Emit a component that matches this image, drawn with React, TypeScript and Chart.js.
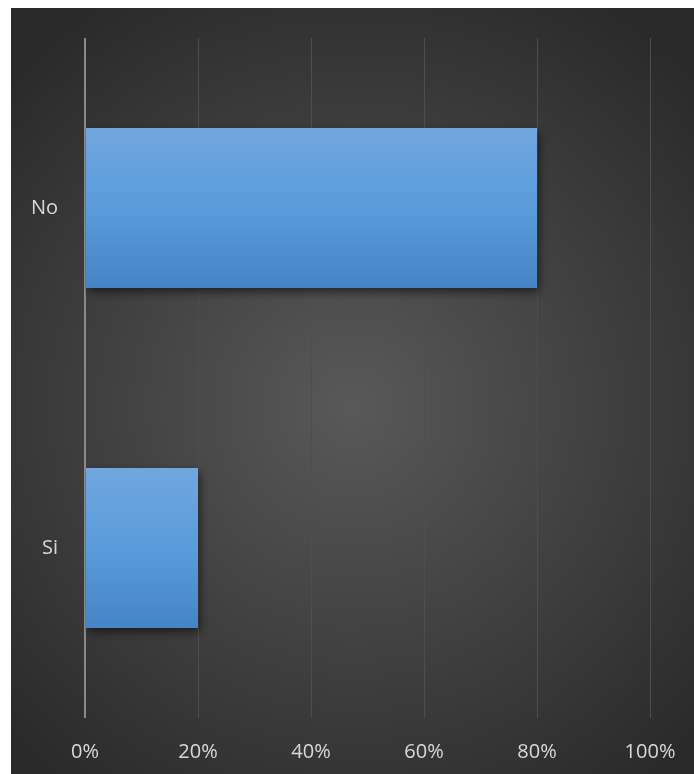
import React, { useEffect, useRef } from "react";
import { Chart, registerables } from "chart.js";

Chart.register(...registerables);

const categories = ["No", "Si"];
const values = [80, 20];
const xTicks = [0, 20, 40, 60, 80, 100];

const bgPlugin = {
  id: "bgPlugin",
  beforeDraw(chart: any) {
    const { ctx, width, height } = chart;
    ctx.save();
    const cx = width * 0.5;
    const cy = height * 0.52;
    const g = ctx.createRadialGradient(cx, cy, 0, cx, cy, Math.max(width, height) * 0.62);
    g.addColorStop(0, "#595959");
    g.addColorStop(1, "#2a2a2a");
    ctx.fillStyle = g;
    ctx.fillRect(0, 0, width, height);
    ctx.restore();
  },
  beforeDatasetDraw(chart: any) {
    const ctx = chart.ctx;
    ctx.save();
    ctx.shadowColor = "rgba(0,0,0,0.55)";
    ctx.shadowBlur = 9;
    ctx.shadowOffsetX = 2;
    ctx.shadowOffsetY = 4;
  },
  afterDatasetDraw(chart: any) {
    chart.ctx.restore();
  },
};

export default function App() {
  const ref = useRef<HTMLCanvasElement>(null);
  useEffect(() => {
    if (!ref.current) return;
    const chart = new Chart(ref.current, {
      type: "bar",
      data: {
        labels: categories,
        datasets: [
          {
            data: values,
            backgroundColor: (c: any) => {
              const chart = c.chart;
              const ys = chart.scales && chart.scales.y;
              const area = chart.chartArea;
              if (!ys || !area || c.dataIndex === undefined) return "#5a9bdc";
              const center = ys.getPixelForValue(c.dataIndex);
              const band = (area.bottom - area.top) / categories.length;
              const half = (band * 0.47) / 2;
              if (!isFinite(center) || !isFinite(half)) return "#5a9bdc";
              const g = chart.ctx.createLinearGradient(0, center - half, 0, center + half);
              g.addColorStop(0, "#71a7dd");
              g.addColorStop(0.5, "#5a9bdc");
              g.addColorStop(1, "#4585c6");
              return g;
            },
            borderWidth: 0,
            categoryPercentage: 1,
            barPercentage: 0.47,
          },
        ],
      },
      options: {
        indexAxis: "y",
        animation: false,
        responsive: false,
        maintainAspectRatio: false,
        layout: { padding: { left: 0, right: 44, top: 30, bottom: 0 } },
        plugins: { legend: { display: false }, tooltip: { enabled: false } },
        scales: {
          x: {
            min: 0,
            max: 100,
            afterBuildTicks: (s: any) => {
              s.ticks = xTicks.map((v) => ({ value: v }));
            },
            afterFit: (s: any) => {
              s.height = 56;
              s.paddingLeft = 0;
              s.paddingRight = 0;
            },
            border: { display: false },
            grid: {
              drawTicks: false,
              color: (c: any) => (c.tick && c.tick.value === 0 ? "#8a8a8a" : "#4e4e4e"),
              lineWidth: (c: any) => (c.tick && c.tick.value === 0 ? 2 : 1),
            },
            ticks: {
              padding: 22,
              maxRotation: 0,
              color: "#d9d9d9",
              font: { family: "Open Sans", size: 20 },
              callback: (v: any) => v + "%",
            },
          },
          y: {
            afterFit: (s: any) => {
              s.width = 74;
              s.paddingTop = 0;
              s.paddingBottom = 0;
            },
            border: { display: false },
            grid: { display: false },
            ticks: {
              padding: 19,
              color: "#d9d9d9",
              font: { family: "Open Sans", size: 20 },
            },
          },
        },
      },
      plugins: [bgPlugin],
    } as any);
    chart.update();
    return () => chart.destroy();
  }, []);
  return (
    <div style={{ position: "fixed", left: 11, top: 8, width: 683, height: 766 }}>
      <canvas ref={ref} width={683} height={766} style={{ display: "block" }} />
    </div>
  );
}
